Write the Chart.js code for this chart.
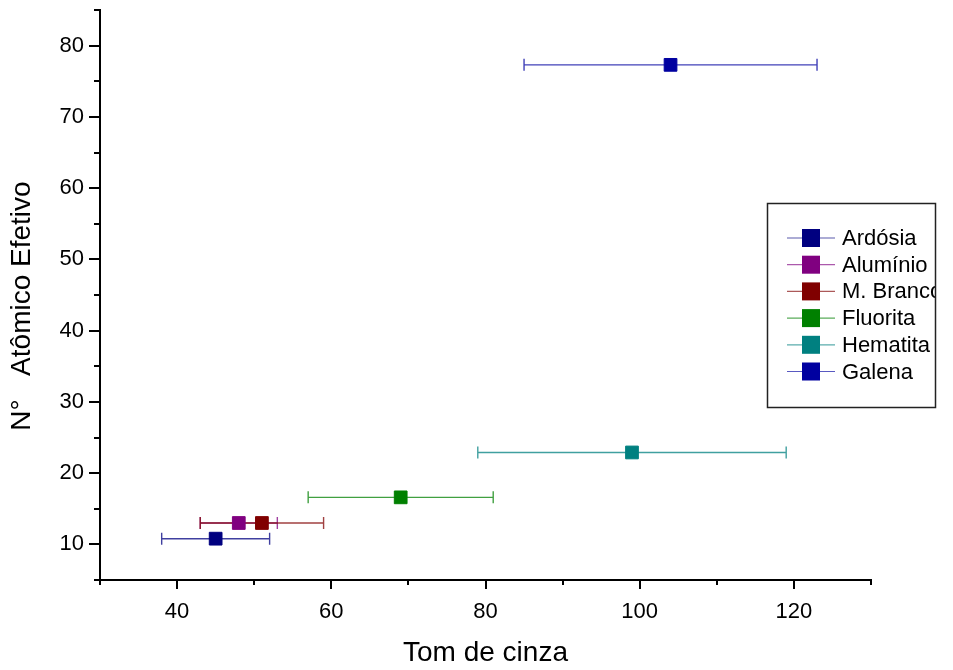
<!DOCTYPE html>
<html>
<head>
<meta charset="utf-8">
<script src="https://cdn.jsdelivr.net/npm/chart.js@4.4.1/dist/chart.umd.min.js"></script>
<style>
  html, body { margin: 0; padding: 0; background: #fff; }
  canvas { display: block; }
</style>
</head>
<body>
<canvas id="chart" width="953" height="670"></canvas>
<script>
/* ── Data ─────────────────────────────────────────────────────── */
const materiais = ["Ardósia", "Alumínio", "M. Branco", "Fluorita", "Hematita", "Galena"];
const tomCinza = [45, 48, 51, 69, 99, 104];
const numAtomico = [10.8, 13.0, 13.0, 16.6, 22.9, 77.3];
const erroTom = [7, 5, 8, 12, 20, 19];
const cores = ["#000080", "#800080", "#800000", "#008000", "#008080", "#0000a0"];

const X_MIN = 30, X_MAX = 130;
const Y_MIN = 5, Y_MAX = 85;

const FONT = "'Liberation Sans', Arial, sans-serif";
Chart.defaults.font.family = FONT;
Chart.defaults.color = "#000";

function hexAlpha(hex, a) {
    const r = parseInt(hex.slice(1, 3), 16);
    const g = parseInt(hex.slice(3, 5), 16);
    const b = parseInt(hex.slice(5, 7), 16);
    return `rgba(${r},${g},${b},${a})`;
}

/* ── Horizontal error bars, drawn under the markers ─────────── */
const errorBars = {
    id: "errorBars",
    beforeDatasetsDraw(chart) {
        const { ctx, scales: { x, y } } = chart;
        ctx.save();
        chart.data.datasets.forEach((ds, i) => {
            const p = ds.data[0];
            const py = y.getPixelForValue(p.y);
            const x0 = x.getPixelForValue(p.x - erroTom[i]);
            const x1 = x.getPixelForValue(p.x + erroTom[i]);
            ctx.strokeStyle = hexAlpha(cores[i], 0.75);
            ctx.lineWidth = 1.4;
            ctx.beginPath();
            ctx.moveTo(x0, py); ctx.lineTo(x1, py);
            ctx.moveTo(x0, py - 6); ctx.lineTo(x0, py + 6);
            ctx.moveTo(x1, py - 6); ctx.lineTo(x1, py + 6);
            ctx.stroke();
        });
        ctx.restore();
    }
};

/* ── Outward tick marks (major + minor) and rotated y title ─── */
const tickMarks = {
    id: "tickMarks",
    afterDraw(chart) {
        const { ctx, scales: { x, y } } = chart;
        ctx.save();
        ctx.strokeStyle = "#000";
        ctx.lineWidth = 2;
        ctx.beginPath();
        x.ticks.forEach(t => {
            const px = Math.round(x.getPixelForValue(t.value));
            const len = t.value % 20 === 0 ? 9 : 5;
            ctx.moveTo(px, x.top); ctx.lineTo(px, x.top + len);
        });
        y.ticks.forEach(t => {
            const py = Math.round(y.getPixelForValue(t.value));
            const len = t.value % 10 === 0 ? 11 : 6;
            ctx.moveTo(y.right, py); ctx.lineTo(y.right - len, py);
        });
        ctx.stroke();

        // y title sits a little below the axis centre in the original
        ctx.translate(22, 306);
        ctx.rotate(-Math.PI / 2);
        ctx.font = "28px " + FONT;
        ctx.fillStyle = "#000";
        ctx.textAlign = "center";
        ctx.textBaseline = "middle";
        ctx.fillText("N°   Atômico Efetivo", 0, 0);
        ctx.restore();
    }
};

/* ── Boxed legend, right side of the plot ────────────────────── */
const boxLegend = {
    id: "boxLegend",
    afterDraw(chart) {
        const { ctx } = chart;
        const left = 767, top = 203, w = 168, h = 204;
        ctx.save();
        ctx.fillStyle = "#fff";
        ctx.fillRect(left, top, w, h);
        ctx.save();
        ctx.beginPath();
        ctx.rect(left, top, w, h);
        ctx.clip();
        ctx.font = "22px " + FONT;
        ctx.textBaseline = "middle";
        chart.data.datasets.forEach((ds, i) => {
            const cy = 238 + i * 26.7;
            ctx.strokeStyle = hexAlpha(cores[i], 0.65);
            ctx.lineWidth = 1.2;
            ctx.beginPath();
            ctx.moveTo(787, cy); ctx.lineTo(835, cy);
            ctx.stroke();
            ctx.fillStyle = cores[i];
            ctx.fillRect(802, cy - 9, 18, 18);
            ctx.fillStyle = "#000";
            ctx.fillText(ds.label, 842, cy + 1);
        });
        ctx.restore();
        ctx.strokeStyle = "#222";
        ctx.lineWidth = 1.5;
        ctx.strokeRect(left + 0.5, top + 0.5, w, h);
        ctx.restore();
    }
};

const datasets = materiais.map((nome, i) => ({
    label: nome,
    data: [{ x: tomCinza[i], y: numAtomico[i] }],
    backgroundColor: cores[i],
    borderColor: cores[i],
    borderWidth: 1,
    pointStyle: "rect",
    pointRadius: 9,
    pointHoverRadius: 9,
}));

new Chart(document.getElementById("chart"), {
    type: "scatter",
    data: { datasets },
    options: {
        responsive: false,
        animation: false,
        layout: { padding: { top: 9, right: 82, left: 0, bottom: 0 } },
        plugins: {
            legend: { display: false },
            tooltip: { enabled: false },
        },
        scales: {
            x: {
                type: "linear",
                min: X_MIN, max: X_MAX,
                afterFit: s => { s.height = 90; s.paddingLeft = 0; s.paddingRight = 0; },
                grid: { display: false },
                border: { display: true, color: "#000", width: 2 },
                ticks: {
                    stepSize: 10,
                    padding: 11,
                    maxRotation: 0,
                    autoSkip: false,
                    font: { size: 22 },
                    color: "#000",
                    callback: v => (v % 20 === 0 && v >= 40 && v <= 120) ? v : "",
                },
                title: {
                    display: true,
                    text: "Tom de cinza",
                    font: { size: 28 },
                    color: "#000",
                    padding: { top: 0, bottom: 0 },
                },
            },
            y: {
                type: "linear",
                min: Y_MIN, max: Y_MAX,
                afterFit: s => { s.width = 100; s.paddingTop = 0; s.paddingBottom = 0; },
                grid: { display: false },
                border: { display: true, color: "#000", width: 2 },
                ticks: {
                    stepSize: 5,
                    padding: 8,
                    autoSkip: false,
                    font: { size: 22 },
                    color: "#000",
                    callback: v => (v % 10 === 0 && v >= 10 && v <= 80) ? v : "",
                },
            },
        },
    },
    plugins: [errorBars, tickMarks, boxLegend],
});
</script>
</body>
</html>
